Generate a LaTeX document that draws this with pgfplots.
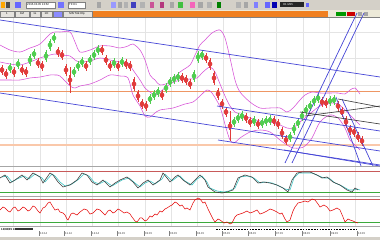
\documentclass[border=0pt]{standalone}
\usepackage{pgfplots}
\usepackage{pgfplotstable}
\pgfplotsset{compat=1.18}
\usepackage{fontspec}
\setmainfont{Liberation Sans}
\definecolor{tb}{RGB}{212,208,200}
\definecolor{tabbg}{RGB}{236,233,216}
\definecolor{orng}{RGB}{240,128,32}
\definecolor{cblue}{RGB}{70,70,215}
\definecolor{cmag}{RGB}{215,80,215}
\definecolor{cgrid}{RGB}{228,228,228}
\definecolor{lvorange}{RGB}{238,150,100}
\definecolor{lvorange2}{RGB}{250,200,170}
\definecolor{cup}{RGB}{80,205,80}
\definecolor{cdn}{RGB}{225,60,60}
\definecolor{lvred}{RGB}{200,90,90}
\definecolor{lvgreen}{RGB}{60,170,60}
\definecolor{ccyan}{RGB}{60,195,195}
\newcommand{\mytiny}{\fontsize{2.8}{3}\selectfont}

\pgfplotstableread{
x y b w
10 68 3 5
18 64 3 5
30 60 4 6
34 54 3 5
46 56 4 6
50 45 4 6
54 38 3 5
74 72 3 5
78 66 3 5
82 62 3 5
90 60 3 5
94 55 3 5
98 50 3 5
114 63 3 5
122 62 3 5
150 99 3 5
154 95 3 5
158 92 3 5
166 88 3 5
170 82 3 5
174 79 3 5
178 77 3 5
194 76 4 6
198 57 4 6
202 55 3 5
234 122 3 5
238 118 3 5
242 116 3 5
254 121 3 5
262 123 3 5
266 121 3 5
270 120 3 5
290 137 3 5
294 129 4 6
298 123 3 5
302 116 3 5
306 110 3 5
310 106 3 5
314 101 3 5
318 98 3 5
330 101 3 5
334 100 3 5
}\upbars

\pgfplotstableread{
x y b w
2 70 3 5
6 74 3 5
14 72 3 5
22 70 3 5
26 72 3 5
38 63 3 5
42 66 3 5
58 52 3 5
62 55 3 5
66 70 4 6
70 80 5 13
86 66 3 5
102 50 3 5
106 60 3 5
110 66 3 5
118 66 3 5
126 64 3 5
130 66 3 5
134 84 5 7
138 96 4 6
142 104 3 5
146 106 3 5
162 95 3 5
182 78 3 5
186 80 3 5
190 84 3 5
206 58 3 5
210 64 4 6
214 78 5 7
218 94 4 6
222 104 3 5
226 112 3 5
230 126 4 15
246 118 3 5
250 122 3 5
258 124 3 5
274 121 3 5
278 124 3 5
282 133 4 6
286 140 3 5
322 102 3 5
326 103 3 5
338 106 3 5
342 112 3 5
346 122 4 6
350 130 3 5
354 132 3 5
358 137 3 5
362 141 3 5
}\dnbars

\begin{document}
\begin{tikzpicture}
\begin{axis}[at={(0,0)}, anchor=south west, scale only axis, width=380pt, height=240pt,
  xmin=0, xmax=380, ymin=0, ymax=240, y dir=reverse, axis lines=none, ticks=none, clip=true]
% ---------- window chrome ----------
\fill[white] (axis cs:0,0) rectangle (axis cs:380,240);
\fill[tb] (axis cs:0,0) rectangle (axis cs:380,10);
\fill[tabbg] (axis cs:0,10) rectangle (axis cs:380,17.5);
\fill[orng] (axis cs:93,11) rectangle (axis cs:328,17);
\fill[tb] (axis cs:0,237) rectangle (axis cs:380,240);
% toolbar icons
\fill[orange!70!yellow] (axis cs:1,2) rectangle (axis cs:5,8);
\fill[gray!60!black] (axis cs:6,2) rectangle (axis cs:10,8);
\fill[blue!60] (axis cs:15,2) rectangle (axis cs:21,8);
\fill[white] (axis cs:26,2) rectangle (axis cs:55,8);
\draw[gray, line width=0.2pt] (axis cs:26,2) rectangle (axis cs:55,8);
\node[anchor=west, inner sep=0, font=\mytiny] at (axis cs:27,5) {2015.03.05 13:52};
\fill[blue!55] (axis cs:58,2) rectangle (axis cs:64,8);
\fill[white] (axis cs:68,2) rectangle (axis cs:85,8);
\draw[gray, line width=0.2pt] (axis cs:68,2) rectangle (axis cs:85,8);
\node[anchor=west, inner sep=0, font=\mytiny] at (axis cs:69,5) {TF:H1};
\fill[gray!70] (axis cs:97,2) rectangle (axis cs:101,8);
\fill[blue!40] (axis cs:111,2) rectangle (axis cs:116,8);
\fill[gray!70] (axis cs:118,2) rectangle (axis cs:122,8);
\fill[gray!60] (axis cs:124,2) rectangle (axis cs:128,8);
\fill[blue!50!gray] (axis cs:131,2) rectangle (axis cs:136,8);
\fill[gray!60] (axis cs:140,2) rectangle (axis cs:145,8);
\fill[magenta!60!gray] (axis cs:150,2) rectangle (axis cs:154,8);
\fill[magenta!70!black] (axis cs:160,2) rectangle (axis cs:164,8);
\fill[gray!70] (axis cs:170,2) rectangle (axis cs:174,8);
\fill[green!50!gray] (axis cs:178,2) rectangle (axis cs:183,8);
\fill[magenta!60] (axis cs:190,2) rectangle (axis cs:195,8);
\fill[gray!70] (axis cs:198,2) rectangle (axis cs:203,8);
\fill[gray!60] (axis cs:207,2) rectangle (axis cs:212,8);
\fill[green!50!black] (axis cs:217,2) rectangle (axis cs:221,8);
\fill[gray!60] (axis cs:236,2) rectangle (axis cs:241,8);
\fill[gray!70] (axis cs:244,2) rectangle (axis cs:248,8);
\fill[blue!50] (axis cs:254,2) rectangle (axis cs:258,8);
\fill[blue!60] (axis cs:265,2) rectangle (axis cs:270,8);
\fill[blue!70!black] (axis cs:272,2) rectangle (axis cs:277,8);
\fill[black!85] (axis cs:280,2.5) rectangle (axis cs:304,7.5);
\node[anchor=west, inner sep=0, text=white, font=\mytiny] at (axis cs:283,5) {H1 M15};
\fill[blue!60] (axis cs:306,3) rectangle (axis cs:309,7);
% tabs
\draw[gray, line width=0.2pt, fill=tb!60] (axis cs:0,11) rectangle (axis cs:14,17);
\node[inner sep=0, font=\mytiny] at (axis cs:7,14) {1};
\draw[gray, line width=0.2pt, fill=tb!60] (axis cs:15,11) rectangle (axis cs:29,17);
\node[inner sep=0, font=\mytiny] at (axis cs:22,14) {1M};
\draw[gray, line width=0.2pt, fill=tb!60] (axis cs:30,11) rectangle (axis cs:40,17);
\node[inner sep=0, font=\mytiny] at (axis cs:35,14) {1L};
\draw[gray, line width=0.2pt, fill=tb!60] (axis cs:41,11) rectangle (axis cs:52,17);
\node[inner sep=0, font=\mytiny] at (axis cs:46.5,14) {1H};
\draw[gray, line width=0.2pt, fill=blue!45] (axis cs:53,11) rectangle (axis cs:62,17);
\draw[gray, line width=0.2pt, fill=tb!60] (axis cs:63,11) rectangle (axis cs:92,17);
\node[inner sep=0, font=\mytiny] at (axis cs:77,14) {MN Tick Hlp};
\fill[green!60!black] (axis cs:336,12.5) rectangle (axis cs:346,16.5);
\fill[red!80!black] (axis cs:347,12.5) rectangle (axis cs:355,16.5);
\fill[gray!70] (axis cs:358,12.5) rectangle (axis cs:362,16.5);
\fill[gray!70] (axis cs:364,12.5) rectangle (axis cs:368,16.5);
\draw[gray, line width=0.3pt] (axis cs:0,17.5) -- (axis cs:380,17.5);
% ---------- grid ----------
\pgfplotsinvokeforeach{13,40,66,92,118,145,171,197,223,250,276,303,329,355}{
  \draw[cgrid, line width=0.4pt] (axis cs:#1,18) -- (axis cs:#1,226);
}
\pgfplotsinvokeforeach{32,58,85,112,138}{
  \draw[cgrid, line width=0.4pt] (axis cs:0,#1) -- (axis cs:380,#1);
}
% panel separators
\draw[gray!70, line width=0.4pt] (axis cs:0,166) -- (axis cs:380,166);
\draw[gray!70, line width=0.4pt] (axis cs:0,196) -- (axis cs:380,196);
\draw[gray!70, line width=0.4pt] (axis cs:0,226.5) -- (axis cs:380,226.5);
% ---------- price levels ----------
\addplot[lvorange, line width=0.75pt] coordinates {(0,91.5) (380,91.5)};
\addplot[lvorange2, line width=1.8pt] coordinates {(0,145) (380,145)};
% ---------- Bollinger bands ----------
\addplot[cmag, line width=0.55pt, smooth] coordinates {
(0,45) (10,50) (20,52) (30,48) (40,44) (50,34) (55,32) (60,32) (70,32) (75,42) (80,52) (90,50) (100,46) (110,46) (120,48) (128,46) (133,44) (140,50) (145,60) (150,75) (155,80) (160,85) (170,82) (180,72) (190,65) (195,55) (200,45) (205,40) (212,33) (220,30) (225,38) (230,58) (235,80) (240,92) (250,102) (260,108) (270,108) (280,108) (287,112) (293,108) (300,100) (305,95) (312,92) (320,93) (330,93) (338,93) (345,94) (350,90) (355,88) (360,94)};
\addplot[cmag, line width=0.55pt, smooth] coordinates {
(0,62) (10,64) (20,65) (30,62) (40,58) (50,55) (55,54) (60,55) (70,56) (75,60) (80,62) (90,61) (100,58) (110,60) (120,62) (128,63) (133,70) (140,80) (145,88) (150,92) (155,95) (160,92) (170,84) (180,80) (190,79) (197,78) (203,72) (210,67) (215,72) (220,84) (225,96) (230,106) (235,112) (240,114) (250,118) (260,121) (270,122) (280,125) (287,128) (293,128) (300,122) (305,118) (312,112) (320,106) (330,103) (338,104) (345,110) (350,115) (355,120) (360,125)};
\addplot[cmag, line width=0.55pt, smooth] coordinates {
(0,80) (10,80) (20,80) (30,78) (40,77) (50,75) (55,75) (60,76) (70,86) (75,88) (80,86) (90,84) (100,80) (110,75) (120,76) (128,78) (133,95) (140,106) (145,116) (150,117) (155,113) (160,110) (173,108) (185,104) (193,102) (200,96) (207,90) (212,93) (220,107) (226,128) (230,140) (234,143) (240,138) (250,132) (260,130) (270,132) (280,140) (287,145) (293,148) (300,148) (305,146) (312,138) (320,122) (330,115) (338,118) (345,128) (350,140) (355,145) (360,150)};
% ---------- candles ----------
\addplot[cup, forget plot, only marks, mark=none, error bars/.cd, y dir=both, y explicit, error mark=none,
  error bar style={cup, line width=0.45pt}] table[x=x, y=y, y error=w] {\upbars};
\addplot[cup, forget plot, only marks, mark=none, error bars/.cd, y dir=both, y explicit, error mark=none,
  error bar style={cup, line width=1.3pt}] table[x=x, y=y, y error=b] {\upbars};
\addplot[cdn, forget plot, only marks, mark=none, error bars/.cd, y dir=both, y explicit, error mark=none,
  error bar style={cdn, line width=0.45pt}] table[x=x, y=y, y error=w] {\dnbars};
\addplot[cdn, forget plot, only marks, mark=none, error bars/.cd, y dir=both, y explicit, error mark=none,
  error bar style={cdn, line width=1.3pt}] table[x=x, y=y, y error=b] {\dnbars};
% ---------- trend lines ----------
\addplot[cblue, line width=0.7pt] coordinates {(0,20) (380,77)};
\addplot[cblue, line width=0.7pt] coordinates {(0,93) (380,151)};
\addplot[cblue, line width=0.7pt] coordinates {(217,106) (380,131)};
\addplot[cblue, line width=0.7pt] coordinates {(218,140) (380,165)};
\addplot[cblue, line width=0.7pt] coordinates {(284,150) (380,166)};
\addplot[cblue, line width=0.7pt] coordinates {(285,163) (357,13)};
\addplot[cblue, line width=0.7pt] coordinates {(292,163) (364,13)};
\addplot[cblue, line width=0.7pt] coordinates {(336,97) (361,166)};
\addplot[cblue, line width=0.7pt] coordinates {(342,99) (373,166)};
\addplot[black!80, line width=0.6pt] coordinates {(338,99) (380,107)};
\addplot[black!80, line width=0.6pt] coordinates {(305,116) (380,106)};
\addplot[black!80, line width=0.6pt] coordinates {(300,112) (380,124)};
% ---------- oscillator 1 ----------
\addplot[lvred, line width=0.7pt] coordinates {(0,171) (380,171)};
\addplot[lvgreen, line width=0.7pt] coordinates {(0,192) (380,192)};
\addplot[ccyan, line width=0.6pt] coordinates {
(2,177) (7,176) (12,182) (17,179) (24,176) (29,179) (35,174) (42,178) (45,182) (52,174) (55,176) (60,182) (65,186) (72,184) (79,179) (84,174) (89,176) (94,182) (99,184) (105,181) (112,186) (117,183) (122,180) (129,178) (135,183) (140,187) (145,183) (150,181) (155,184) (162,179) (165,174) (169,178) (172,181) (177,177) (180,176) (185,181) (192,185) (197,179) (202,176) (207,182) (210,188) (217,191) (224,192) (229,191) (235,188) (240,177) (247,176) (254,178) (260,183) (265,182) (272,183) (279,186) (285,189) (290,190) (294,178) (299,173) (305,173) (312,173) (319,176) (324,178) (329,178) (335,183) (342,186) (349,190) (354,190) (357,189) (360,190)};
\addplot[black!75, line width=0.6pt] coordinates {
(0,178) (5,175) (10,183) (15,180) (22,175) (27,180) (33,173) (40,177) (43,183) (50,173) (53,175) (58,182) (63,187) (70,185) (77,180) (82,173) (87,175) (92,182) (97,185) (103,180) (110,187) (115,183) (120,180) (127,177) (133,182) (138,188) (143,183) (148,180) (153,185) (160,180) (163,173) (167,178) (170,182) (175,177) (178,175) (183,180) (190,185) (195,180) (200,175) (205,180) (208,187) (215,192) (222,193) (227,192) (233,190) (238,178) (245,175) (252,177) (258,183) (263,182) (270,183) (277,185) (283,188) (288,192) (292,180) (297,173) (303,172) (310,172) (317,175) (322,178) (327,177) (333,182) (340,185) (347,190) (352,192) (355,188) (358,190)};
% ---------- oscillator 2 ----------
\addplot[lvred, line width=0.7pt] coordinates {(0,199) (380,199)};
\addplot[lvgreen, line width=0.7pt] coordinates {(0,222) (380,222)};
\addplot[red!90!black, line width=0.5pt] coordinates {
(0,210) (3,207) (5,208) (8,211) (10,212) (13,208) (15,207) (18,211) (20,210) (23,207) (25,208) (28,211) (30,210) (33,206) (35,207) (38,211) (40,213) (43,208) (45,207) (48,203) (50,202) (53,207) (55,210) (58,209) (60,212) (63,213) (65,215) (67,219) (68,220) (71,214) (73,213) (77,215) (80,212) (84,209) (87,210) (90,214) (93,213) (97,209) (100,210) (103,213) (105,215) (108,211) (110,210) (113,213) (115,212) (118,209) (120,210) (124,213) (127,212) (130,214) (132,217) (135,221) (137,222) (140,218) (142,218) (145,221) (147,220) (150,216) (152,217) (155,214) (157,215) (160,211) (162,212) (165,209) (167,208) (170,206) (172,205) (175,202) (177,203) (180,206) (182,205) (185,209) (187,208) (190,210) (193,203) (195,200) (198,198) (200,199) (203,203) (205,202) (208,209) (210,213) (213,219) (215,222) (218,219) (220,220) (224,223) (227,222) (230,224) (232,223) (235,217) (237,215) (240,214) (243,213) (247,211) (250,213) (253,212) (257,210) (260,214) (263,213) (267,211) (270,209) (273,210) (277,212) (280,214) (282,213) (285,219) (287,222) (290,220) (293,211) (295,207) (298,203) (302,202) (305,201) (308,202) (312,199) (315,200) (318,204) (320,207) (324,205) (327,207) (330,211) (333,210) (337,208) (340,210) (343,217) (345,222) (348,219) (350,220) (353,221) (355,222) (358,223)};
% ---------- date axis ----------
\node[anchor=west, inner sep=0, font=\mytiny\bfseries] at (axis cs:1,229.5) {13/08/05 13};
\fill[black!80] (axis cs:15,228.3) rectangle (axis cs:33,230);
\addplot[black, line width=1.3pt, dash pattern=on 1.6pt off 1.2pt] coordinates {(216,229.5) (357,229.5)};
\pgfplotsinvokeforeach{39,64,91,117,144,169,196,222,248,275,302,330,357}{
  \draw[gray, line width=0.3pt] (axis cs:#1,231) -- (axis cs:#1,235.5);
}
\node[anchor=west, inner sep=0, text=black!80, font=\mytiny] at (axis cs:40,233.3) {10.14};
\node[anchor=west, inner sep=0, text=black!80, font=\mytiny] at (axis cs:65,233.3) {11.14};
\node[anchor=west, inner sep=0, text=black!80, font=\mytiny] at (axis cs:92,233.3) {12.14};
\node[anchor=west, inner sep=0, text=black!80, font=\mytiny] at (axis cs:118,233.3) {01.15};
\node[anchor=west, inner sep=0, text=black!80, font=\mytiny] at (axis cs:145,233.3) {02.15};
\node[anchor=west, inner sep=0, text=black!80, font=\mytiny] at (axis cs:170,233.3) {03.15};
\node[anchor=west, inner sep=0, text=black!80, font=\mytiny] at (axis cs:197,233.3) {04.15};
\node[anchor=west, inner sep=0, text=black!80, font=\mytiny] at (axis cs:223,233.3) {05.15};
\node[anchor=west, inner sep=0, text=black!80, font=\mytiny] at (axis cs:249,233.3) {06.15};
\node[anchor=west, inner sep=0, text=black!80, font=\mytiny] at (axis cs:276,233.3) {07.15};
\node[anchor=west, inner sep=0, text=black!80, font=\mytiny] at (axis cs:303,233.3) {08.15};
\node[anchor=west, inner sep=0, text=black!80, font=\mytiny] at (axis cs:331,233.3) {09.15};
\node[anchor=west, inner sep=0, text=black!80, font=\mytiny] at (axis cs:358,233.3) {10.15};
\end{axis}
\pgfresetboundingbox
\useasboundingbox (0,0) rectangle (380pt,240pt);
\end{tikzpicture}
\end{document}
